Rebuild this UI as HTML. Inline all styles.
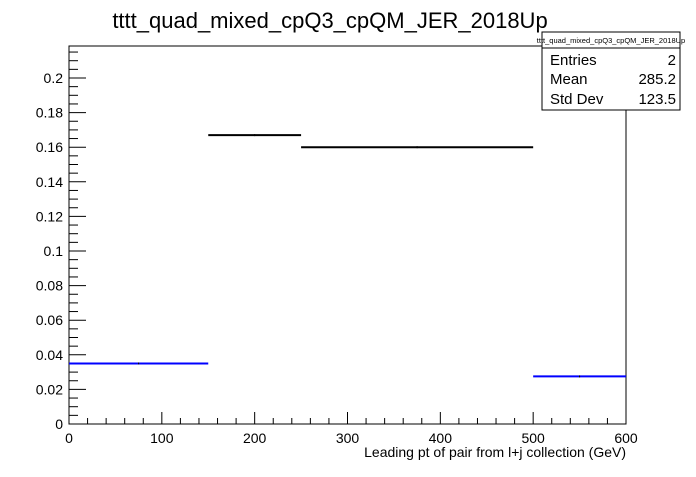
<!DOCTYPE html>
<html><head><meta charset="utf-8"><style>
body{margin:0;background:#fff;font-family:"Liberation Sans",sans-serif}
svg text{font-family:"Liberation Sans",sans-serif}
</style></head><body>
<svg width="696" height="472" xmlns="http://www.w3.org/2000/svg">
<rect width="696" height="472" fill="#fff"/>
<text x="330" y="28" font-size="22" text-anchor="middle">tttt_quad_mixed_cpQ3_cpQM_JER_2018Up</text>
<rect x="69" y="46" width="557" height="378" fill="none" stroke="#000" stroke-width="1"/>
<g id="axes"></g>
<g id="marks"></g>
<text x="626" y="457" font-size="14" text-anchor="end">Leading pt of pair from l+j collection (GeV)</text>
<g>
<rect x="542" y="32" width="138" height="78" fill="#fff" stroke="#000"/>
<line x1="542" y1="48" x2="680" y2="48" stroke="#000"/>
<text x="611" y="43" font-size="7.5" text-anchor="middle">tttt_quad_mixed_cpQ3_cpQM_JER_2018Up</text>
<text x="550" y="65" font-size="15">Entries</text><text x="676" y="65" font-size="15" text-anchor="end">2</text>
<text x="550" y="84" font-size="15">Mean</text><text x="676" y="84" font-size="15" text-anchor="end">285.2</text>
<text x="550" y="104" font-size="15">Std Dev</text><text x="676" y="104" font-size="15" text-anchor="end">123.5</text>
</g>
</svg>
<script>
const binEdgesLo=[0,150,250,500];
const binEdgesHi=[150,250,500,600];
const binValues=[0.035,0.167,0.160,0.0275];
const binColors=["#0000ff","#000000","#000000","#0000ff"];
const xTicks=[0,100,200,300,400,500,600];
const yTicks=[0,0.02,0.04,0.06,0.08,0.1,0.12,0.14,0.16,0.18,0.2];
const yTickLabels=["0","0.02","0.04","0.06","0.08","0.1","0.12","0.14","0.16","0.18","0.2"];
const NS="http://www.w3.org/2000/svg";
const X0=69,X1=626,Y0=424;
const sx=v=>X0+(v/600)*(X1-X0);
const sy=v=>Y0-v*1730;
function mk(t,a,p){const e=document.createElementNS(NS,t);for(const k in a)e.setAttribute(k,a[k]);p.appendChild(e);return e;}
const ax=document.getElementById('axes');
for(let v=0;v<=600;v+=20){const big=v%100===0;
 const l=mk('line',{x1:sx(v),x2:sx(v),y1:Y0,y2:Y0-(big?12:6),stroke:'#000'},ax);
 }
xTicks.forEach(v=>{const t=mk('text',{x:sx(v),y:Y0+19,'font-size':14,'text-anchor':'middle'},ax);t.textContent=v;
 });
for(let i=0;i<=43;i++){const v=i*0.005;const big=i%4===0;if(sy(v)<46)break;
 const l=mk('line',{x1:X0,x2:X0+(big?17:9),y1:sy(v),y2:sy(v),stroke:'#000'},ax);
 }
yTicks.forEach((v,i)=>{const t=mk('text',{x:X0-6,y:sy(v)+5,'font-size':14,'text-anchor':'end'},ax);t.textContent=yTickLabels[i];
 });
const mg=document.getElementById('marks');
binValues.forEach((v,i)=>{
 const l=mk('line',{x1:sx(binEdgesLo[i]),x2:sx(binEdgesHi[i]),y1:sy(v),y2:sy(v),stroke:binColors[i],'stroke-width':2},mg);
 
 
 const m=(binEdgesLo[i]+binEdgesHi[i])/2;
 const e=mk('line',{x1:sx(m),x2:sx(m),y1:sy(v)-1,y2:sy(v)+1,stroke:'#000','stroke-width':1},mg);
 
 
});
</script>
</body></html>
